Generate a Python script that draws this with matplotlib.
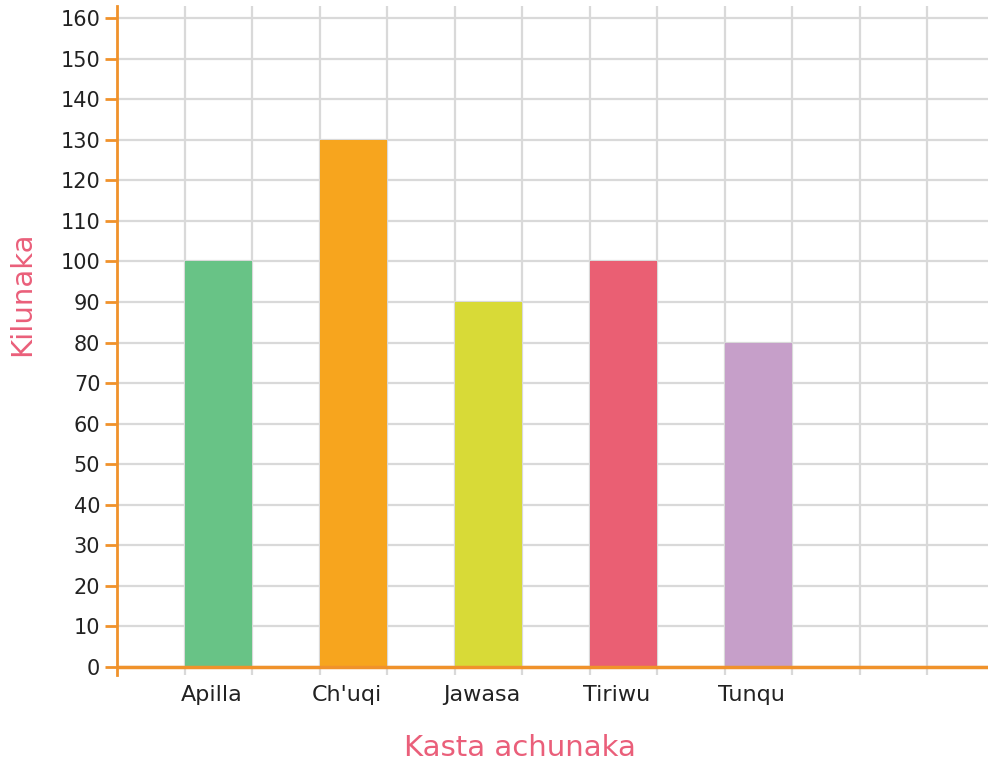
import matplotlib.pyplot as plt
from matplotlib.ticker import MultipleLocator

categories = ["Apilla", "Ch'uqi", "Jawasa", "Tiriwu", "Tunqu"]
values = [100, 130, 90, 100, 80]
bar_colors = ["#68c386", "#f7a51e", "#d8da37", "#ea5f73", "#c69fc9"]
y_ticks = list(range(0, 170, 10))

axis_orange = "#f0922b"
label_pink = "#ea5f7a"
grid_gray = "#d9d9d9"

fig = plt.figure(figsize=(9.88, 7.66), dpi=100)
# axes box: x 117..988 px, y 6..675 px
ax = fig.add_axes([117 / 988, (766 - 675) / 766, (988 - 117) / 988, (675 - 6) / 766])

# one grid column = half a category slot
centers = [1.5 + 2 * i for i in range(len(categories))]
ax.bar(centers, values, width=1.0, color=bar_colors, zorder=2)

ax.set_xlim(0, (988 - 117) / 67.5)
ax.set_ylim(-2, 163)

ax.xaxis.set_major_locator(MultipleLocator(1))
ax.set_yticks(y_ticks)
ax.grid(True, color=grid_gray, linewidth=1.6, zorder=0)
ax.set_axisbelow(True)

# category labels as minor ticks so the grid stays on the half slots
ax.set_xticks([c - 0.1 for c in centers], categories, minor=True)
ax.tick_params(axis="x", which="major", length=0, labelbottom=False)
ax.tick_params(axis="x", which="minor", length=0, pad=7, labelsize=16, labelcolor="#222222")
ax.tick_params(axis="y", length=9, width=2, color=axis_orange, labelsize=15,
               labelcolor="#222222", pad=3)

for side in ["top", "right", "bottom"]:
    ax.spines[side].set_visible(False)
ax.spines["left"].set_color(axis_orange)
ax.spines["left"].set_linewidth(2)
ax.axhline(0, color=axis_orange, linewidth=2.5, zorder=3)

# place axis titles in figure pixels
ax.set_xlabel("Kasta achunaka", fontsize=21, color=label_pink, va="center")
ax.xaxis.set_label_coords(520 / 988, (766 - 748) / 766, transform=fig.transFigure)
ax.set_ylabel("Kilunaka", fontsize=21, color=label_pink, va="center")
ax.yaxis.set_label_coords(22 / 988, (766 - 294) / 766, transform=fig.transFigure)

fig.savefig("out.png", dpi=100)
